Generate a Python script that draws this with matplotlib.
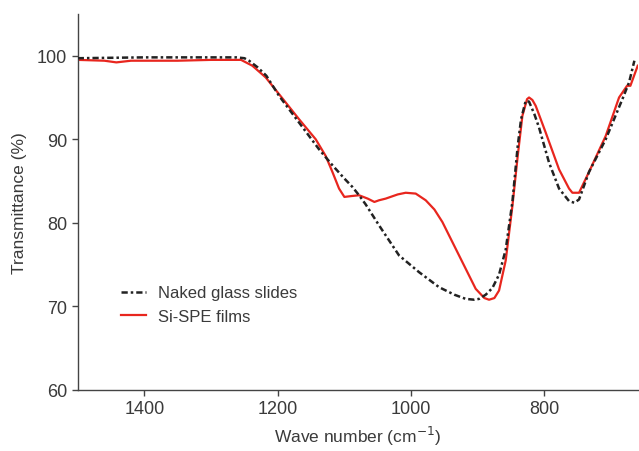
import matplotlib
matplotlib.use("Agg")
import matplotlib.pyplot as plt

plt.rcParams['font.family'] = ['Liberation Sans', 'DejaVu Sans']

naked_x = [1500, 1400, 1300, 1262, 1250, 1243, 1230, 1217, 1198, 1168, 1138, 1118, 1100, 1088,
           1078, 1068, 1048, 1018, 988, 958, 935, 918, 905, 898, 888, 878, 868, 858, 848, 840,
           835, 828, 823, 815, 808, 793, 778, 763, 755, 748, 733, 708, 683, 673, 665]
naked_y = [99.7, 99.8, 99.8, 99.8, 99.7, 99.4, 98.6, 97.6, 95.2, 92.0, 88.8, 86.9, 85.3, 84.3,
           83.3, 82.2, 79.7, 76.1, 74.1, 72.3, 71.4, 70.9, 70.8, 70.9, 71.4, 72.2, 73.8, 76.8, 82.5, 89.2,
           92.4, 94.6, 94.5, 93.0, 91.4, 87.2, 84.1, 82.6, 82.4, 82.8, 86.1, 90.0, 94.8, 96.8, 99.4]

spe_x = [1500, 1460, 1442, 1420, 1350, 1300, 1255, 1238, 1218, 1198, 1168, 1143, 1128, 1118,
         1108, 1100, 1090, 1078, 1065, 1055, 1048, 1038, 1020, 1008, 993, 978, 965, 953, 938,
         918, 903, 890, 883, 875, 868, 858, 848, 840, 833, 826, 823, 818, 813, 798, 778, 763,
         758, 748, 733, 708, 688, 676, 671, 660]
spe_y = [99.5, 99.4, 99.2, 99.4, 99.4, 99.5, 99.5, 98.8, 97.4, 95.4, 92.4, 90.0, 88.0, 86.1,
         84.1, 83.1, 83.2, 83.3, 82.9, 82.5, 82.7, 82.9, 83.4, 83.6, 83.5, 82.7, 81.6, 80.1, 77.7,
         74.5, 72.1, 71.0, 70.8, 71.0, 71.9, 75.5, 82.0, 88.0, 92.8, 94.8, 95.0, 94.7, 94.0, 90.8, 86.4, 84.1,
         83.6, 83.6, 86.1, 90.4, 95.0, 96.4, 96.4, 98.8]

x_ticks = [1400, 1200, 1000, 800]
y_ticks = [60, 70, 80, 90, 100]

fig = plt.figure(figsize=(6.39, 4.52), dpi=100)
ax = fig.add_axes([0.1216, 0.135, 0.8764, 0.832])

ax.plot(spe_x, spe_y, color='#e8261e', lw=1.6, label='Si-SPE films', zorder=2)
ax.plot(naked_x, naked_y, color='#222222', lw=1.8, linestyle=(0, (2.5, 1.2, 1, 1.2)),
        label='Naked glass slides', zorder=3)

ax.set_xlim(1500, 660)
ax.set_ylim(60, 105)
ax.set_xticks(x_ticks)
ax.set_yticks(y_ticks)
for s in ['top', 'right']:
    ax.spines[s].set_visible(False)
for s in ['left', 'bottom']:
    ax.spines[s].set_color('#444444')
    ax.spines[s].set_linewidth(1.0)
ax.tick_params(direction='out', length=4, width=1, color='#444444', labelcolor='#3a3a3a',
               labelsize=13)
ax.set_xlabel('Wave number (cm$^{-1}$)', fontsize=12.5, color='#3a3a3a', labelpad=5)
ax.set_ylabel('Transmittance (%)', fontsize=12.5, color='#3a3a3a', labelpad=7)

h, l = ax.get_legend_handles_labels()
ax.legend(h[::-1], l[::-1], loc='center left', bbox_to_anchor=(0.065, 0.227), frameon=False,
          fontsize=12, handlelength=1.5, handletextpad=0.75, labelcolor='#3a3a3a', borderaxespad=0)

fig.savefig('out.png', dpi=100)
